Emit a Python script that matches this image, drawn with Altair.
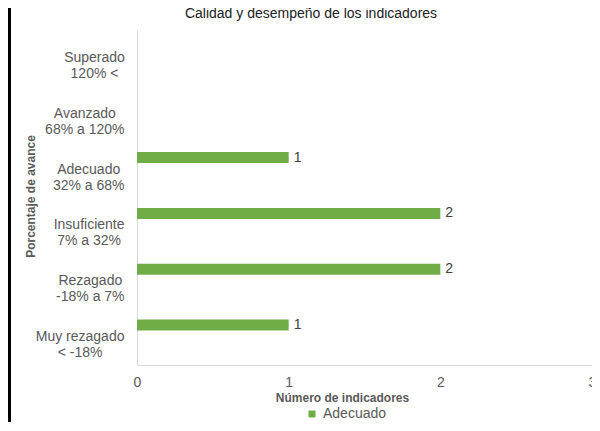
import altair as alt
import pandas as pd

titulo = ["Calidad y desempeño de los indicadores"]
categorias = [
    "Superado\n120% <",
    "Avanzado\n68% a 120%",
    "Adecuado\n32% a 68%",
    "Insuficiente\n7% a 32%",
    "Rezagado\n-18% a 7%",
    "Muy rezagado\n< -18%",
]
valores = [None, None, 1, 2, 2, 1]
serie = ["Adecuado"] * len(categorias)
x_ticks = [0, 1, 2, 3]

df = pd.DataFrame({"categoria": categorias, "valor": valores, "serie": serie})
df_title = pd.DataFrame({"t": titulo})

GREEN = "#70AD47"
GREY = "#595959"
FONT = "Liberation Sans"

label_padding = {
    "condition": [
        {"test": "indexof(datum.value, 'Superado') == 0", "value": 43},
        {"test": "indexof(datum.value, 'Avanzado') == 0", "value": 52.7},
        {"test": "indexof(datum.value, 'Adecuado') == 0", "value": 48.8},
        {"test": "indexof(datum.value, 'Insuficiente') == 0", "value": 48.4},
        {"test": "indexof(datum.value, 'Muy') == 0", "value": 57.4},
    ],
    "value": 47.2,
}

y_enc = alt.Y(
    "categoria:N",
    sort=categorias,
    scale=alt.Scale(domain=categorias, paddingInner=0, paddingOuter=0),
    axis=alt.Axis(
        title="Porcentaje de avance",
        titleFont=FONT,
        titleFontSize=12,
        titleFontWeight="bold",
        titleColor=GREY,
        titleX=-107,
        titleY=166,
        titleAngle=270,
        titleAlign="center",
        titleBaseline="middle",
        labelExpr="split(datum.label, '\\n')",
        labelFont=FONT,
        labelFontSize=14,
        labelColor=GREY,
        labelLineHeight=16,
        labelAlign="center",
        labelBaseline="middle",
        labelPadding=label_padding,
        ticks=False,
        tickSize=0,
        domainColor="#D9D9D9",
        domainWidth=1,
        grid=False,
    ),
)

x_enc = alt.X(
    "valor:Q",
    scale=alt.Scale(domain=[0, 3], nice=False),
    axis=alt.Axis(
        title="Número de indicadores",
        titleFont=FONT,
        titleFontSize=12,
        titleFontWeight="bold",
        titleColor=GREY,
        titleX=205,
        titleY=32,
        titleAlign="center",
        titleBaseline="middle",
        values=x_ticks,
        format="d",
        labelFont=FONT,
        labelFontSize=14,
        labelColor=GREY,
        labelPadding=10,
        labelFlush=False,
        ticks=False,
        tickSize=0,
        domainColor="#D9D9D9",
        domainWidth=1,
        grid=False,
    ),
)

base = alt.Chart(df).transform_filter("isValid(datum.valor)")

bars = base.mark_bar(height=11, yOffset=-12).encode(
    x=x_enc,
    y=y_enc,
    color=alt.Color(
        "serie:N",
        scale=alt.Scale(range=[GREEN]),
        legend=alt.Legend(
            title=None,
            orient="none",
            legendX=168,
            legendY=377,
            symbolType="square",
            symbolSize=49,
            symbolStrokeWidth=0,
            labelFont=FONT,
            labelFontSize=14,
            labelColor=GREY,
            labelOffset=4,
            padding=0,
        ),
    ),
)

labels = base.mark_text(
    align="left", baseline="middle", dx=5, yOffset=-12,
    font=FONT, fontSize=14, color="#404040",
).encode(
    x="valor:Q",
    y=alt.Y("categoria:N", sort=categorias),
    text=alt.Text("valor:Q", format="d"),
)

title_mark = alt.Chart(df_title).mark_text(
    align="center", baseline="alphabetic", font=FONT, fontSize=14, color="#222222",
).encode(
    x=alt.value(174),
    y=alt.value(-12),
    text="t:N",
)

border = alt.Chart(df).mark_rule(color="black", strokeWidth=3).encode(
    x=alt.value(-128),
    y=alt.value(-22),
    y2=alt.value(392),
)

chart = alt.layer(bars, labels, title_mark, border).properties(
    width=455,
    height=335,
    autosize=alt.AutoSizeParams(type="none"),
    padding={"left": 129, "top": 22, "right": 0, "bottom": 57},
).configure_view(stroke=None)

chart.save("out.html", embed_options={"renderer": "svg", "actions": False})
